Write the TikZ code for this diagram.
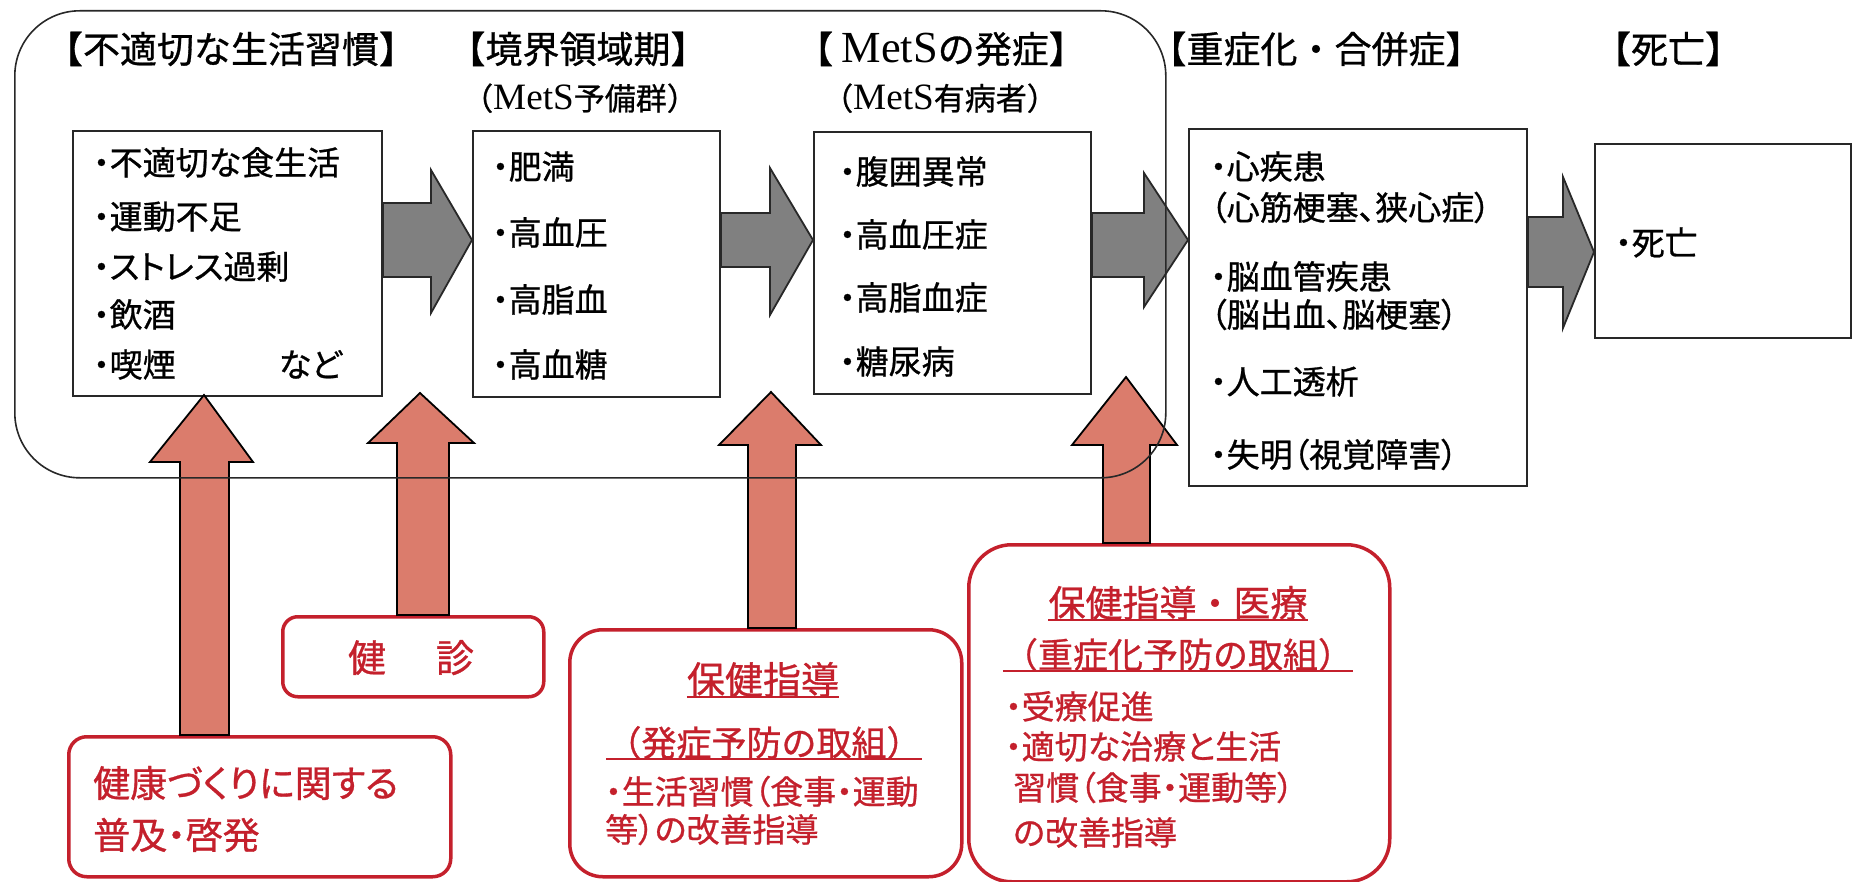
\documentclass[tikz,border=0pt]{standalone}
\usepackage{fontspec}
\setmainfont{Noto Sans CJK JP}[FakeBold=0.8]
\newfontfamily\jpp{Noto Sans CJK JP}[RawFeature=+palt,FakeBold=0.8]
\newfontfamily\ser{Liberation Serif}[Scale=1.2]
\usetikzlibrary{calc}
\definecolor{redln}{RGB}{196,32,44}
\definecolor{salmon}{RGB}{219,124,108}
\definecolor{garr}{RGB}{128,128,128}
\definecolor{dk}{RGB}{40,40,40}
\begin{document}
\begin{tikzpicture}[x=1pt,y=-1pt,
  bbox/.style={draw=dk,line width=2pt,fill=white,inner sep=0pt,anchor=north west},
  rbox/.style={draw=redln,line width=3.5pt,fill=white,rounded corners=#1,inner sep=0pt,anchor=north west},
  garrow/.style={draw=dk,fill=garr,line width=1.8pt,line join=miter},
  rarrow/.style={draw=black,fill=salmon,line width=1.8pt,line join=miter},
  ht/.style={inner sep=0pt,anchor=base,font=\fontsize{37}{42}\selectfont},
  hs/.style={inner sep=0pt,anchor=base,font=\fontsize{31}{36}\selectfont},
  bt/.style={inner sep=0pt,anchor=base west,font=\jpp\fontsize{33}{38}\selectfont},
  rt/.style={inner sep=0pt,anchor=base west,text=redln,font=\jpp\fontsize{32}{38}\selectfont},
  rtl/.style={inner sep=0pt,anchor=base,text=redln,font=\fontsize{#1}{40}\selectfont},
  rul/.style={draw=redln,line width=1.3pt}
]
\useasboundingbox (0,0) rectangle (1855,882);

% stage boxes
\node[bbox,minimum width=309pt,minimum height=265pt] (b1) at (72,130) {};
\node[bbox,minimum width=247pt,minimum height=266pt] (b2) at (472,130) {};
\node[bbox,minimum width=277pt,minimum height=262pt] (b3) at (813,131) {};
\node[bbox,minimum width=338pt,minimum height=357pt] (b4) at (1188,128) {};
\node[bbox,minimum width=256pt,minimum height=194pt] (b5) at (1594,143) {};

% gray arrows
\draw[garrow] (b1.east |- 0,203) -- (431,203) -- (431,170) -- (b2.west |- 0,240) -- (431,313) -- (431,277) -- (b1.east |- 0,277) -- cycle;
\draw[garrow] (b2.east |- 0,213) -- (770,213) -- (770,168) -- (b3.west |- 0,240) -- (770,315) -- (770,267) -- (b2.east |- 0,267) -- cycle;
\draw[garrow] (b3.east |- 0,213) -- (1144,213) -- (1144,173) -- (b4.west |- 0,240) -- (1144,307) -- (1144,277) -- (b3.east |- 0,277) -- cycle;
\draw[garrow] (b4.east |- 0,217) -- (1563,217) -- (1563,177) -- (b5.west |- 0,252) -- (1563,328) -- (1563,287) -- (b4.east |- 0,287) -- cycle;

% red boxes
\node[rbox=18pt,minimum width=382pt,minimum height=140pt] (kenko) at (67,735) {};
\node[rbox=15pt,minimum width=261pt,minimum height=80pt] (kenshin) at (281,615) {};
\node[rbox=33pt,minimum width=392pt,minimum height=247pt] (hoken) at (568,628) {};
\node[rbox=43pt,minimum width=421pt,minimum height=337pt] (iryo) at (967,543) {};

% red arrows
\coordinate (t1) at (204,395);
\coordinate (t2) at (420,393);
\coordinate (t3) at (771,392);
\coordinate (t4) at (1126,377);
\draw[rarrow] (kenko.north -| 180,0) -- (180,462) -- (150,462) -- (t1) -- (253,462) -- (229,462) -- (kenko.north -| 229,0) -- cycle;
\draw[rarrow] (kenshin.north -| 397,0) -- (397,443) -- (368,443) -- (t2) -- (474,443) -- (449,443) -- (kenshin.north -| 449,0) -- cycle;
\draw[rarrow] (hoken.north -| 748,0) -- (748,445) -- (719,445) -- (t3) -- (821,445) -- (796,445) -- (hoken.north -| 796,0) -- cycle;
\draw[rarrow] (iryo.north -| 1103,0) -- (1103,445) -- (1072,445) -- (t4) -- (1177,445) -- (1150,445) -- (iryo.north -| 1150,0) -- cycle;

% big rounded frame
\node[draw=dk,line width=1.6pt,rounded corners=65pt,minimum width=1151pt,minimum height=467pt,anchor=north west,inner sep=0pt] (stage) at (14,10) {};

% headers
\node[ht] (h1) at (231,63) {【不適切な生活習慣】};
\node[ht] (h2) at (578,63) {【境界領域期】};
\node[hs] (h2s) at (580,110) {（{\ser MetS}予備群）};
\node[ht] (h3) at (941,63) {【 {\ser MetS}の発症】};
\node[hs] (h3s) at (940,110) {（{\ser MetS}有病者）};
\node[ht] (h4) at (1316,63) {【重症化・合併症】};
\node[ht] (h5) at (1668,63) {【死亡】};

% box 1
\node[bt] (b1a) at (93,175) {・不適切な食生活};
\node[bt] (b1b) at (93,229) {・運動不足};
\node[bt] (b1c) at (93,279) {・ストレス過剰};
\node[bt] (b1d) at (93,327) {・飲酒};
\node[bt] (b1e) at (93,377) {・喫煙};
\node[bt,anchor=base east] (b1f) at (342,377) {など};
% box 2
\node[bt] (b2a) at (492,179) {・肥満};
\node[bt] (b2b) at (492,245) {・高血圧};
\node[bt] (b2c) at (492,312) {・高脂血};
\node[bt] (b2d) at (492,377) {・高血糖};
% box 3
\node[bt] (b3a) at (839,184) {・腹囲異常};
\node[bt] (b3b) at (839,247) {・高血圧症};
\node[bt] (b3c) at (839,310) {・高脂血症};
\node[bt] (b3d) at (839,374) {・糖尿病};
% box 4
\node[bt] (b4a) at (1210,179) {・心疾患};
\node[bt] (b4b) at (1210,220) {（心筋梗塞、狭心症）};
\node[bt] (b4c) at (1210,289) {・脳血管疾患};
\node[bt] (b4d) at (1210,327) {（脳出血、脳梗塞）};
\node[bt] (b4e) at (1210,394) {・人工透析};
\node[bt] (b4f) at (1210,467) {・失明（視覚障害）};
% box 5
\node[bt] (b5a) at (1615,255) {・死亡};

% red texts
\node[rt,font=\jpp\fontsize{37}{42}\selectfont] (k1) at (93,797) {健康づくりに関する};
\node[rt,font=\jpp\fontsize{37}{42}\selectfont] (k2) at (93,849) {普及・啓発};
\node[rtl=38] (ks) at (411,672) {健\hspace{50pt}診};

\node[rtl=38] (p1) at (763,694) {保健指導};
\draw[rul] ([yshift=-3pt]p1.base west) -- ([yshift=-3pt]p1.base east);
\node[rtl=35] (p2) at (764,756) {（発症予防の取組）};
\draw[rul] ([yshift=-3pt]p2.base west) -- ([yshift=-3pt]p2.base east);
\node[rt,font=\jpp\fontsize{33}{38}\selectfont] (p3) at (605,804) {・生活習慣（食事・運動};
\node[rt,font=\jpp\fontsize{33}{38}\selectfont] (p4) at (605,842) {等）の改善指導};

\node[rtl=37] (q1) at (1178,617) {保健指導・医療};
\draw[rul] ([yshift=-3pt]q1.base west) -- ([yshift=-3pt]q1.base east);
\node[rtl=35] (q2) at (1178,668) {（重症化予防の取組）};
\draw[rul] ([yshift=-3pt]q2.base west) -- ([yshift=-3pt]q2.base east);
\node[rt,font=\jpp\fontsize{33}{38}\selectfont] (q3) at (1005,719) {・受療促進};
\node[rt,font=\jpp\fontsize{33}{38}\selectfont] (q4) at (1005,759) {・適切な治療と生活};
\node[rt,font=\jpp\fontsize{33}{38}\selectfont] (q5) at (1013,800) {習慣（食事・運動等）};
\node[rt,font=\jpp\fontsize{33}{38}\selectfont] (q6) at (1013,845) {の改善指導};
\end{tikzpicture}
\end{document}
